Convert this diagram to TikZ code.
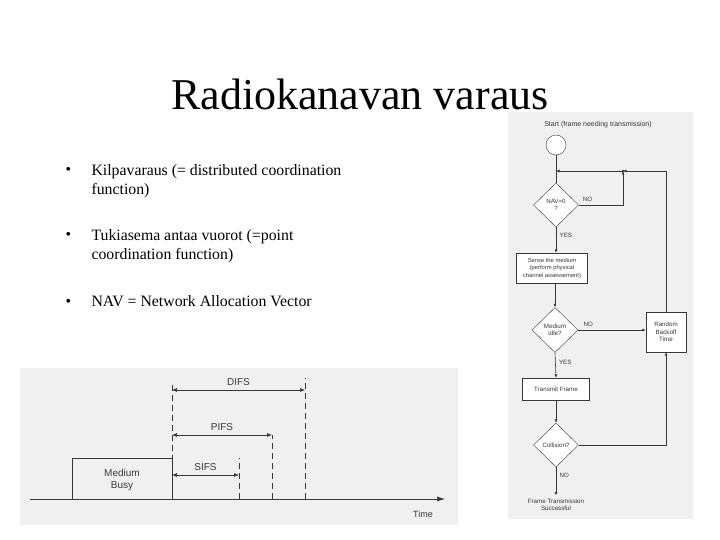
\documentclass[tikz,border=0pt]{standalone}
\usepackage{fontspec}
\setmainfont{Liberation Serif}
\setsansfont{Liberation Sans}
\usepackage{tikz}
\usetikzlibrary{arrows.meta,positioning,calc,shapes.geometric}
\definecolor{ink}{RGB}{55,55,55}
\definecolor{paper}{RGB}{240,240,240}

\begin{document}
\begin{tikzpicture}[x=1pt, y=-1pt,
  flowbox/.style={draw=ink, fill=white, align=center, inner sep=1pt,
                  font=\sffamily\fontsize{6.2}{7.5}\selectfont, text=ink},
  decision/.style={draw=ink, fill=white, diamond, aspect=1, inner sep=0pt,
                   minimum width=45pt, minimum height=44pt, align=center,
                   font=\sffamily\fontsize{6.2}{7.5}\selectfont, text=ink},
  flowlbl/.style={font=\sffamily\fontsize{6.2}{7.5}\selectfont, text=ink},
  flow/.style={draw=ink, semithick, -{Latex[length=3.5pt,width=3pt]}},
  plain/.style={draw=ink, semithick},
  bullet/.style={anchor=base west, font=\fontsize{15.8}{19.2}\selectfont},
  tlabel/.style={font=\sffamily\fontsize{10}{12}\selectfont, text=ink},
  tick/.style={draw=ink, thick, dash pattern=on 6pt off 4pt},
  span/.style={draw=ink, semithick, {Latex[length=5pt,width=4pt]}-{Latex[length=5pt,width=4pt]}}
]
\useasboundingbox (0,0) rectangle (720,540);
\fill[white] (0,0) rectangle (720,540);

\fill[paper] (508,112) rectangle (693,519);
\fill[paper] (20,368) rectangle (458,525);

\node[anchor=base, font=\fontsize{44}{50}\selectfont] (title) at (360,110) {Radiokanavan varaus};

\node[bullet] (b1) at (62,175) {•};
\node[bullet, align=left, anchor=north west] (t1) at (88,161) {Kilpavaraus (= distributed coordination\\function)};
\node[bullet] (b2) at (62,240) {•};
\node[bullet, align=left, anchor=north west] (t2) at (88,226) {Tukiasema antaa vuorot (=point\\coordination function)};
\node[bullet] (b3) at (62,306) {•};
\node[bullet] (t3) at (88,306) {NAV = Network Allocation Vector};

\node[flowlbl, font=\sffamily\fontsize{7}{8}\selectfont] (startlbl) at (598,125) {Start (frame needing transmission)};
\node[draw=ink, fill=white, circle, minimum size=20pt, inner sep=0pt] (start) at (556,145) {};
\coordinate (join) at (556,171);
\coordinate (merge) at (623,171);
\node[decision] (nav) at (556,205) {NAV=0\\?};
\node[flowbox, minimum width=71pt, minimum height=30pt, font=\sffamily\fontsize{5.8}{7.5}\selectfont] (sense) at (552,268)
  {Sense the medium\\(perform physical\\channel assessement)};
\node[decision, minimum width=46pt, minimum height=45pt] (idle) at (555,330) {Medium\\idle?};
\node[flowbox, minimum width=40pt, minimum height=40pt] (backoff) at (666,332) {Random\\Backoff\\Time};
\node[flowbox, minimum width=67pt, minimum height=22pt] (transmit) at (556,389) {Transmit Frame};
\node[decision] (collision) at (556,445) {Collision?};
\node[flowlbl, align=center] (done) at (556,505) {Frame Transmission\\Successful};

\draw[plain] (start) -- (nav);
\draw[flow] (merge) -- (join);
\fill[ink] (merge) circle (1.3pt);
\draw[flow] (nav.east) -- node[flowlbl, above, pos=0.2] {NO} (nav.east -| merge) -- (merge);
\draw[flow] (backoff.north) |- (merge);
\draw[flow] (nav.south) -- node[flowlbl, right, pos=0.3] {YES} (nav.south |- sense.north);
\draw[flow] (sense.south -| idle.north) -- (idle.north);
\draw[flow] (idle.east) -- node[flowlbl, above, pos=0.15] {NO} (backoff.west |- idle.east);
\draw[flow] (idle.south) -- node[flowlbl, right, pos=0.4] {YES} (transmit.north);
\draw[flow] (transmit.south) -- (collision.north);
\draw[flow] (collision.east) -| (backoff.south);
\draw[flow] (collision.south) -- node[flowlbl, right, pos=0.3] {NO} (done.north);

\coordinate (origin) at (30,499);
\coordinate (timeend) at (445,499);
\coordinate (busyend) at (172,499);
\coordinate (sifs) at (239,499);
\coordinate (pifs) at (272,499);
\coordinate (difs) at (305,499);

\draw[draw=ink, semithick, -{Latex[length=8pt,width=5pt]}] (origin) -- (timeend);
\node[tlabel, font=\sffamily\fontsize{9}{11}\selectfont] (time) at (423,514) {Time};
\draw[draw=ink, semithick] (72,499) -- (72,458) -- (172,458) -- (busyend);
\node[tlabel, align=center] (busy) at (122,480) {Medium\\Busy};

\draw[tick] (172,385) -- (172,458);
\draw[tick] (sifs) -- (239,458);
\draw[tick] (pifs) -- (272,435);
\draw[tick] (difs) -- (305,378);

\draw[span] (172,390) -- node[tlabel, above=1pt] {DIFS} (305,390);
\draw[span] (172,435) -- node[tlabel, above=1pt] {PIFS} (272,435);
\draw[span] (172,475) -- node[tlabel, above=1pt] {SIFS} (239,475);
\end{tikzpicture}
\end{document}
